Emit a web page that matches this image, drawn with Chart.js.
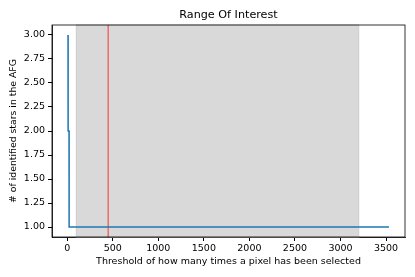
<!DOCTYPE html>
<html>
<head>
<meta charset="utf-8">
<script src="https://cdn.jsdelivr.net/npm/chart.js@4/dist/chart.umd.min.js"></script>
<style>
  html, body { margin: 0; padding: 0; background: #fff; }
  #chart { display: block; }
</style>
</head>
<body>
<canvas id="chart" width="415" height="277"></canvas>
<script>
// thresholds and how many stars are found at each
const thresholds = [9, 10, 20, 21, 3532]
const stars = [3, 2, 2, 1, 1]

// range of interest and the chosen threshold
const roiStart = 100
const roiEnd = 3200
const chosenThreshold = 450

const xTicks = [0, 500, 1000, 1500, 2000, 2500, 3000, 3500]
const yTicks = [1.00, 1.25, 1.50, 1.75, 2.00, 2.25, 2.50, 2.75, 3.00]

const chartTitle = "Range Of Interest"
const fontFamily = "'DejaVu Sans', sans-serif"

const roiPlugin = {
  id: "roi",
  beforeDatasetsDraw(chart) {
    const { ctx, chartArea, scales } = chart
    const x0 = scales.x.getPixelForValue(roiStart)
    const x1 = scales.x.getPixelForValue(roiEnd)
    ctx.save()
    ctx.fillStyle = "#d9d9d9"
    ctx.fillRect(x0, chartArea.top, x1 - x0, chartArea.bottom - chartArea.top)
    ctx.strokeStyle = "#cccccc"
    ctx.lineWidth = 1
    ctx.strokeRect(x0, chartArea.top, x1 - x0, chartArea.bottom - chartArea.top)

    const xr = scales.x.getPixelForValue(chosenThreshold)
    ctx.strokeStyle = "rgba(255, 0, 0, 0.5)"
    ctx.lineWidth = 1.5
    ctx.beginPath()
    ctx.moveTo(xr, chartArea.top)
    ctx.lineTo(xr, chartArea.bottom)
    ctx.stroke()
    ctx.restore()
  },
  afterDraw(chart) {
    const { ctx, chartArea } = chart
    ctx.save()
    ctx.strokeStyle = "#000"
    ctx.lineWidth = 0.8
    ctx.strokeRect(chartArea.left, chartArea.top, chartArea.right - chartArea.left, chartArea.bottom - chartArea.top)

    // title centred over the axes, like matplotlib
    ctx.fillStyle = "#000"
    ctx.font = `11.2px ${fontFamily}`
    ctx.textAlign = "center"
    ctx.textBaseline = "middle"
    ctx.fillText(chartTitle, (chartArea.left + chartArea.right) / 2, 15)
    ctx.restore()
  }
}

new Chart(document.querySelector("#chart"), {
  type: "line",
  data: {
    datasets: [{
      data: thresholds.map((t, i) => ({ x: t, y: stars[i] })),
      borderColor: "#1f77b4",
      borderWidth: 1.5,
      pointRadius: 0,
      tension: 0,
      fill: false,
    }]
  },
  plugins: [roiPlugin],
  options: {
    responsive: false,
    animation: false,
    layout: { padding: { left: 0, right: 10, top: 25, bottom: 0 } },
    plugins: {
      legend: { display: false },
      tooltip: { enabled: false },
      title: { display: false },
    },
    scales: {
      x: {
        type: "linear",
        min: -167,
        max: 3708,
        afterBuildTicks: scale => { scale.ticks = xTicks.map(v => ({ value: v })) },
        afterFit: scale => { scale.height = 40 },
        ticks: {
          color: "#000",
          font: { family: fontFamily, size: 9.5 },
          padding: 2,
          maxRotation: 0,
          autoSkip: false,
          callback: v => String(v),
        },
        grid: { drawOnChartArea: false, drawTicks: true, tickLength: 4, color: "#000" },
        border: { color: "#000", width: 0.8 },
        title: {
          display: true,
          text: "Threshold of how many times a pixel has been selected",
          color: "#000",
          font: { family: fontFamily, size: 9.5 },
          padding: { top: 0, bottom: 10 },
        }
      },
      y: {
        min: 0.896,
        max: 3.104,
        afterBuildTicks: scale => { scale.ticks = yTicks.map(v => ({ value: v })) },
        afterFit: scale => { scale.width = 52 },
        ticks: {
          color: "#000",
          font: { family: fontFamily, size: 9.5 },
          padding: 3,
          autoSkip: false,
          callback: v => v.toFixed(2),
        },
        grid: { drawOnChartArea: false, drawTicks: true, tickLength: 4, color: "#000" },
        border: { color: "#000", width: 0.8 },
        title: {
          display: true,
          text: "# of identified stars in the AFG",
          color: "#000",
          font: { family: fontFamily, size: 9.3 },
          padding: { top: 8, bottom: 0 },
        }
      }
    }
  }
})
</script>
</body>
</html>
